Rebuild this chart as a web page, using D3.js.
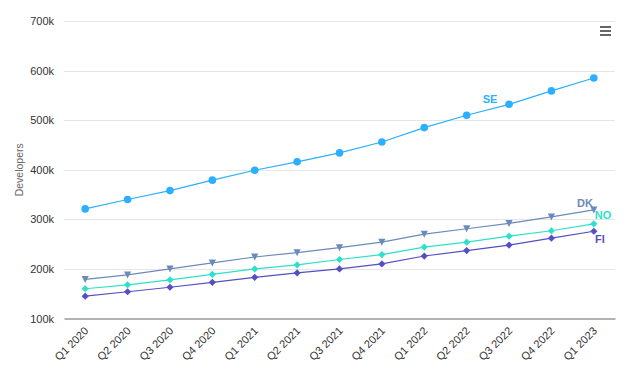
<!DOCTYPE html>
<html><head><meta charset="utf-8">
<script src="https://cdn.jsdelivr.net/npm/d3@7"></script>
<style>body{margin:0;background:#fff;font-family:"Liberation Sans",Arial,sans-serif}</style>
</head><body><svg id="c" width="630" height="370"></svg>
<script>
const categories = ["Q1 2020","Q2 2020","Q3 2020","Q4 2020","Q1 2021","Q2 2021","Q3 2021","Q4 2021","Q1 2022","Q2 2022","Q3 2022","Q4 2022","Q1 2023"];
const SE = [321000,340000,358000,379000,399000,416000,434000,456000,485000,510000,532000,559000,585000];
const DK = [179000,188000,200000,212000,224000,233000,243000,254000,270000,281000,292000,305000,319000];
const NO = [160000,168000,178000,189000,200000,208000,219000,229000,244000,254000,266000,277000,291000];
const FI = [145000,154000,163000,173000,183000,192000,200000,210000,226000,237000,248000,262000,276000];
const yTicks = [100000,200000,300000,400000,500000,600000,700000];

const series = [
  {name:"SE", data:SE, color:"#2caffe", symbol:"circle", label:[490,103]},
  {name:"FI", data:FI, color:"#544fc5", symbol:"diamond", label:[600,243]},
  {name:"DK", data:DK, color:"#6b8abc", symbol:"tridown", label:[585,207]},
  {name:"NO", data:NO, color:"#2ee0ca", symbol:"diamond", label:[603,219]}
];

const svg = d3.select("#c");
const L=64,R=615,T=21,B=318.5;
const x = d3.scaleBand().domain(categories).range([L,R]);
const y = d3.scaleLinear().domain([100000,700000]).range([B,T]);
const cx = d => x(d)+x.bandwidth()/2;

// gridlines
svg.append("g").selectAll("line").data(yTicks.slice(1)).join("line")
  .attr("x1",L).attr("x2",R).attr("y1",d=>Math.round(y(d))+0.5).attr("y2",d=>Math.round(y(d))+0.5)
  .attr("stroke","#e6e6e6").attr("stroke-width",1);

// y axis labels
const yAxis = d3.axisLeft(y).tickValues(yTicks).tickSize(0).tickPadding(0).tickFormat(d=>d/1000+"k");
const gy = svg.append("g").attr("transform",`translate(${L-10},0)`).call(yAxis);
gy.select(".domain").remove();
gy.selectAll("text").attr("font-size","11px").attr("fill","#333").attr("font-family","Liberation Sans, Arial, sans-serif").attr("dy","0.32em");

// y title
svg.append("text").attr("transform",`translate(23,${(T+B)/2}) rotate(-90)`).attr("text-anchor","middle")
  .attr("font-size","10.5px").attr("fill","#666").text("Developers");

// x axis
const xAxis = d3.axisBottom(x).tickSize(0).tickPadding(0);
const gx = svg.append("g").attr("transform",`translate(0,${B})`).call(xAxis);
gx.select(".domain").attr("stroke","#999").attr("stroke-width",1.5);
gx.selectAll("text").attr("font-size","11px").attr("fill","#333").attr("font-family","Liberation Sans, Arial, sans-serif")
  .attr("text-anchor","end").attr("dy",null).attr("transform","translate(4,13) rotate(-45)");

// lines
const line = d3.line().x((d,i)=>cx(categories[i])).y(d=>y(d));
series.forEach(s=>{
  svg.append("path").attr("d",line(s.data)).attr("fill","none").attr("stroke",s.color).attr("stroke-width",1.2);
  const g = svg.append("g");
  s.data.forEach((v,i)=>{
    const px=cx(categories[i]), py=y(v);
    if(s.symbol==="tridown"){
      g.append("path").attr("d",`M${px-3.6},${py-3.4}L${px+3.6},${py-3.4}L${px},${py+3.6}Z`).attr("fill",s.color);
    } else if(s.symbol==="diamond"){
      g.append("path").attr("d",`M${px},${py-3.6}L${px+3.6},${py}L${px},${py+3.6}L${px-3.6},${py}Z`).attr("fill",s.color);
    } else {
      g.append("circle").attr("cx",px).attr("cy",py).attr("r",3.8).attr("fill",s.color);
    }
  });
  svg.append("text").attr("x",s.label[0]).attr("y",s.label[1]).attr("text-anchor","middle")
    .attr("font-size","11px").attr("font-weight","bold").attr("fill",s.color).text(s.name);
});

// menu icon
const mg = svg.append("g").attr("stroke","#666").attr("stroke-width",2);
[27,31,35].forEach(yy=>mg.append("line").attr("x1",600).attr("x2",611).attr("y1",yy).attr("y2",yy));
</script></body></html>
